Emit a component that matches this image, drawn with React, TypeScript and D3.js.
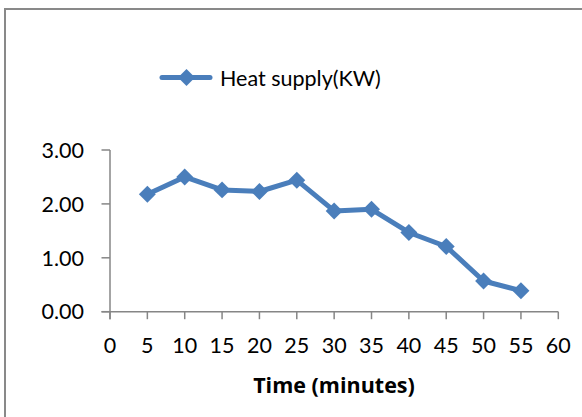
import React, { useEffect, useRef } from 'react';
import * as d3 from 'd3';

const times = [5, 10, 15, 20, 25, 30, 35, 40, 45, 50, 55];
const heatSupply = [2.18, 2.5, 2.26, 2.23, 2.44, 1.87, 1.9, 1.47, 1.21, 0.57, 0.39];
const xTicks = [0, 5, 10, 15, 20, 25, 30, 35, 40, 45, 50, 55, 60];
const yTicks = [0, 1, 2, 3];
const seriesName = 'Heat supply(KW)';
const xTitle = 'Time (minutes)';

const BLUE = '#4A7EBB';
const AXIS = '#868686';
const FONT = 'Lato, "Open Sans", sans-serif';

export default function App() {
  const svgRef = useRef<SVGSVGElement>(null);

  useEffect(() => {
    if (!svgRef.current) return;
    const svg = d3.select(svgRef.current);
    svg.selectAll('*').remove();

    const x = d3.scaleLinear().domain([0, 60]).range([110, 558.3]);
    const y = d3.scaleLinear().domain([0, 3]).range([311.7, 150]);

    // outer chart frame (cut off at right and bottom)
    svg.append('rect')
      .attr('x', 5).attr('y', 9)
      .attr('width', 620).attr('height', 440)
      .attr('fill', 'white')
      .attr('stroke', '#898989')
      .attr('stroke-width', 2);

    // y axis
    svg.append('line')
      .attr('x1', x(0)).attr('x2', x(0))
      .attr('y1', y(3)).attr('y2', y(0) + 7.5)
      .attr('stroke', AXIS).attr('stroke-width', 1.5);
    svg.selectAll('.ytick')
      .data(yTicks)
      .enter().append('line')
      .attr('x1', x(0) - 8.5).attr('x2', x(0))
      .attr('y1', d => y(d)).attr('y2', d => y(d))
      .attr('stroke', AXIS).attr('stroke-width', 1.5);
    svg.selectAll('.ylabel')
      .data(yTicks)
      .enter().append('text')
      .attr('x', 84)
      .attr('y', d => y(d))
      .attr('dy', '0.36em')
      .attr('text-anchor', 'end')
      .attr('font-family', FONT)
      .attr('font-size', 21.5)
      .attr('fill', '#000')
      .text(d => d3.format('.2f')(d));

    // x axis
    svg.append('line')
      .attr('x1', x(0) - 8.5).attr('x2', x(60))
      .attr('y1', y(0)).attr('y2', y(0))
      .attr('stroke', AXIS).attr('stroke-width', 1.5);
    svg.selectAll('.xtick')
      .data(xTicks)
      .enter().append('line')
      .attr('x1', d => x(d)).attr('x2', d => x(d))
      .attr('y1', y(0)).attr('y2', y(0) + 7.5)
      .attr('stroke', AXIS).attr('stroke-width', 1.5);
    svg.selectAll('.xlabel')
      .data(xTicks)
      .enter().append('text')
      .attr('x', d => x(d))
      .attr('y', 353)
      .attr('text-anchor', 'middle')
      .attr('font-family', FONT)
      .attr('font-size', 21.5)
      .attr('fill', '#000')
      .text(d => d);

    svg.append('text')
      .attr('x', 334).attr('y', 392.5)
      .attr('text-anchor', 'middle')
      .attr('font-family', '"Open Sans", Lato, sans-serif')
      .attr('font-size', 21.5)
      .attr('font-weight', 700)
      .attr('fill', '#000')
      .text(xTitle);

    // series
    const data = times.map((t, i) => ({ t, v: heatSupply[i] }));
    const line = d3.line<{ t: number; v: number }>()
      .x(d => x(d.t))
      .y(d => y(d.v));

    svg.append('path')
      .datum(data)
      .attr('fill', 'none')
      .attr('stroke', BLUE)
      .attr('stroke-width', 5)
      .attr('stroke-linejoin', 'round')
      .attr('stroke-linecap', 'round')
      .attr('d', line);

    const diamond = d3.symbol(d3.symbolSquare, 144)();
    svg.selectAll('.marker')
      .data(data)
      .enter().append('path')
      .attr('d', diamond)
      .attr('transform', d => `translate(${x(d.t)},${y(d.v)}) rotate(45)`)
      .attr('fill', BLUE);

    // legend
    const lg = svg.append('g');
    lg.append('line')
      .attr('x1', 162).attr('x2', 210)
      .attr('y1', 77.5).attr('y2', 77.5)
      .attr('stroke', BLUE).attr('stroke-width', 5)
      .attr('stroke-linecap', 'round');
    lg.append('path')
      .attr('d', diamond)
      .attr('transform', 'translate(186.5,77.5) rotate(45)')
      .attr('fill', BLUE);
    lg.append('text')
      .attr('x', 220).attr('y', 86)
      .attr('font-family', FONT)
      .attr('font-size', 21.5)
      .attr('fill', '#000')
      .text(seriesName);
  }, []);

  return (
    <svg
      ref={svgRef}
      width={582}
      height={417}
      style={{ position: 'absolute', top: 0, left: 0, background: '#fff' }}
    />
  );
}
